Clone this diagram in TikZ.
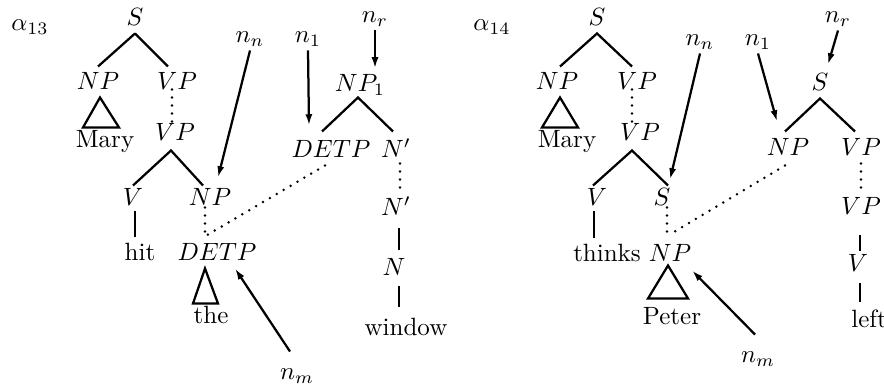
\documentclass[tikz,border=0pt]{standalone}
\usetikzlibrary{arrows.meta,calc}
\begin{document}
\begin{tikzpicture}[x=0.4pt,y=-0.4pt,
  tn/.style={inner sep=1pt, text height=8pt, text depth=2pt},
  ln/.style={line width=0.9pt, line join=miter},
  dl/.style={line width=1.1pt, line cap=round, dash pattern=on 0pt off 3.2pt},
  arr/.style={line width=0.9pt, -{Latex[length=4.5pt,width=2.8pt]}}]
\useasboundingbox (0,0) rectangle (884,384);
% ---------- alpha 13 ----------
\node[tn] (a13) at (30,23) {$\alpha_{13}$};
\node[tn] (lS) at (135,18) {$S$};
\node[tn] (lNPa) at (98,82) {$NP$};
\node[tn] (lVPa) at (177,82) {$VP$};
\node[tn] (lMary) at (105,140) {Mary};
\node[tn] (lVPb) at (175,133) {$VP$};
\node[tn] (lV) at (133,198) {$V$};
\node[tn] (lNPb) at (210,198) {$NP$};
\node[tn] (lhit) at (140,253) {hit};
\node[tn] (lDETP) at (217,253) {$DETP$};
\node[tn] (lthe) at (211,316) {the};
\node[tn] (lnn) at (250,35) {$n_n$};
\node[tn] (ln1) at (308,35) {$n_1$};
\node[tn] (lnr) at (375,15) {$n_r$};
\node[tn] (rNPa) at (360,84) {$NP_1$};
\node[tn] (rDETP) at (331,150) {$DETP$};
\node[tn] (rNa) at (396,150) {$N'$};
\node[tn] (rNb) at (396,208) {$N'$};
\node[tn] (rN) at (394,268) {$N$};
\node[tn] (rwin) at (406,328) {window};
\node[tn] (lnm) at (297,372) {$n_m$};

\draw[ln] (lS.south) -- (lNPa.north);
\draw[ln] (lS.south) -- ($(lVPa.north)+(-9,0)$);
\draw[ln] ($(lNPa.south)+(2,0)$) -- ++(-17,30) -- ++(36,0) -- cycle;
\draw[dl] ($(lVPa.south)+(-5,-8)$) -- ($(lVPb.north)+(-3,6)$);
\draw[ln] ($(lV.north)+(0,3)$) -- ($(lVPb.south)+(-4,2)$) -- ($(lNPb.north)+(-7,3)$);
\draw[ln] ($(lV.south)+(2,-2)$) -- ($(lV.south |- lhit.north)+(2,0)$);
\draw[dl] ($(lNPb.south)+(-5,-6)$) -- ($(lNPb.south |- lDETP.north)+(-5,0)$);
\draw[ln] ($(lDETP.south)+(-12,0)$) -- ++(-12,35) -- ++(25,0) -- cycle;
\draw[arr] (lnn.south) -- ($(lNPb.north)+(8,-5)$);
\draw[arr] (ln1.south) -- ($(ln1.south)+(1,75)$);
\draw[arr] (lnr.south) -- (lnr.south |- rNPa.north);
\draw[ln] ($(rDETP.north)+(-9,-3)$) -- ($(rNPa.south)+(-2,-2)$) -- ($(rNa.north)+(-3,-3)$);
\draw[dl] ($(rDETP.south)+(-6,0)$) -- ($(lDETP.north)+(-14,0)$);
\draw[dl] ($(rNa.south)+(4,-2)$) -- ($(rNb.north)+(4,-2)$);
\draw[ln] ($(rNb.south)+(3,5)$) -- ($(rN.north)+(5,-2)$);
\draw[ln] ($(rN.south)+(5,3)$) -- ($(rwin.north)+(-7,-5)$);
\draw[arr] ($(lnm.north)+(-7,-5)$) -- ($(lDETP.south)+(18,0)$);

% ---------- alpha 14 ----------
\node[tn] (a14) at (492,23) {$\alpha_{14}$};
\node[tn] (mS) at (597,18) {$S$};
\node[tn] (mNPa) at (557,82) {$NP$};
\node[tn] (mVPa) at (637,82) {$VP$};
\node[tn] (mMary) at (567,140) {Mary};
\node[tn] (mVPb) at (640,133) {$VP$};
\node[tn] (mV) at (597,198) {$V$};
\node[tn] (mS2) at (662,198) {$S$};
\node[tn] (mthinks) at (607,254) {thinks};
\node[tn] (mNPb) at (670,254) {$NP$};
\node[tn] (mPeter) at (672,317) {Peter};
\node[tn] (mnn) at (700,38) {$n_n$};
\node[tn] (mn1) at (758,38) {$n_1$};
\node[tn] (mnr) at (838,15) {$n_r$};
\node[tn] (nS) at (820,83) {$S$};
\node[tn] (nNP) at (788,148) {$NP$};
\node[tn] (nVPa) at (861,148) {$VP$};
\node[tn] (nVPb) at (861,207) {$VP$};
\node[tn] (nV) at (858,264) {$V$};
\node[tn] (nleft) at (869,320) {left};
\node[tn] (mnm) at (758,355) {$n_m$};

\draw[ln] ($(mNPa.north)+(3,0)$) -- (mS.south) -- ($(mVPa.north)+(-5,0)$);
\draw[ln] ($(mNPa.south)+(3,0)$) -- ++(-18,30) -- ++(36,0) -- cycle;
\draw[dl] ($(mVPa.south)+(-5,-8)$) -- ($(mVPb.north)+(-8,6)$);
\draw[ln] ($(mV.north)+(-4,3)$) -- ($(mVPb.south)+(-8,2)$) -- ($(mS2.north)+(6,3)$);
\draw[ln] ($(mV.south)+(-3,-2)$) -- ($(mV.south |- mthinks.north)+(-3,0)$);
\draw[dl] ($(mS2.south)+(5,-6)$) -- ($(mS2.south |- mNPb.north)+(5,0)$);
\draw[ln] ($(mNPb.south)+(-2,-4)$) -- ++(-20,33) -- ++(40,0) -- cycle;
\draw[arr] (mnn.south) -- ($(mS2.north)+(8,-3)$);
\draw[arr] (mn1.south) -- ($(nNP.north)+(-11,-11)$);
\draw[arr] (mnr.south) -- ($(nS.north)+(8,-3)$);
\draw[ln] ($(nNP.north)+(-3,-1)$) -- (nS.south) -- ($(nVPa.north)+(-6,-1)$);
\draw[dl] ($(nNP.south)+(-3,2)$) -- ($(mNPb.north)+(3,-6)$);
\draw[dl] (nVPa.south) -- ($(nVPb.north)+(0,-2)$);
\draw[ln] ($(nVPb.south)+(-1,13)$) -- ($(nV.north)+(2,3)$);
\draw[ln] ($(nV.south)+(2,4)$) -- ($(nleft.north)+(-9,-2)$);
\draw[arr] ($(mnm.north)+(-3,-5)$) -- ($(mNPb.south)+(22,1)$);
\end{tikzpicture}
\end{document}
